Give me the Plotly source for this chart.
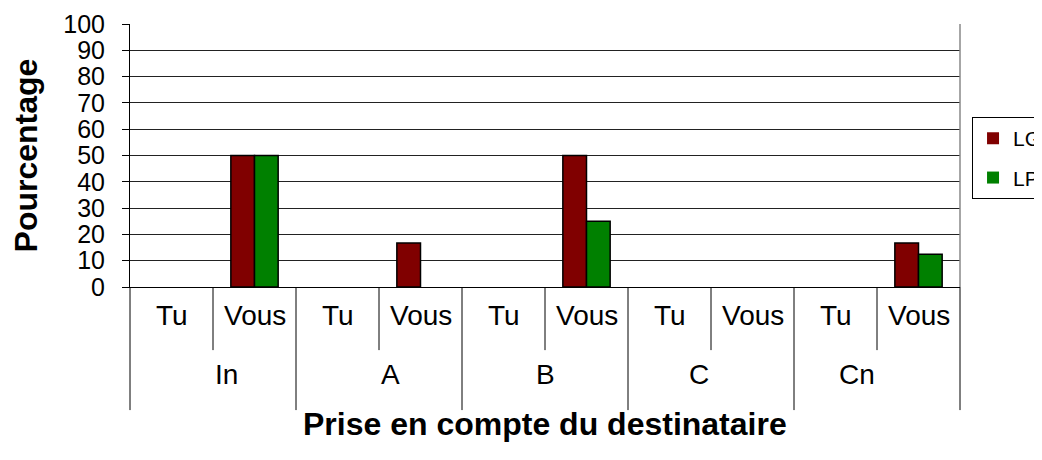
import plotly.graph_objects as go

# catégories (groupe, destinataire)
groupes = ["In", "A", "B", "C", "Cn"]
sous_cat = ["Tu", "Vous"]
cles = [g + "|" + s for g in groupes for s in sous_cat]

# pourcentages
lg = [0, 50, 0, 16.7, 0, 50, 0, 0, 0, 16.7]
lp = [0, 50, 0, 0, 0, 25, 0, 0, 0, 12.5]

police = "Arial, Liberation Sans, sans-serif"
n = len(cles)


def contour(valeurs):
    # pas de contour pour les barres nulles
    return [1.5 if v else 0 for v in valeurs]


fig = go.Figure()
fig.add_trace(go.Bar(x=cles, y=lg, name="LG", legendgroup="lg",
                     marker=dict(color="#800000", line=dict(color="black", width=contour(lg)))))
fig.add_trace(go.Bar(x=cles, y=lp, name="LP", legendgroup="lp",
                     marker=dict(color="#008000", line=dict(color="black", width=contour(lp)))))

annotations = []
shapes = []
for cle in cles:
    annotations.append(dict(x=cle, xref="x", y=-0.175, yref="paper", text=cle.split("|")[1],
                            showarrow=False, font=dict(size=28, color="black", family=police)))
for j, g in enumerate(groupes):
    annotations.append(dict(x=(2 * j + 1) / n, xref="paper", y=-0.40, yref="paper", text=g,
                            showarrow=False, font=dict(size=28, color="black", family=police)))
annotations.append(dict(x=0.5, xref="paper", y=-0.597, yref="paper", text="<b>Prise en compte du destinataire</b>",
                        showarrow=False, font=dict(size=32, color="black", family=police)))

# séparateurs sous l'axe
for k in range(n + 1):
    bas = -0.468 if k % 2 == 0 else -0.24
    shapes.append(dict(type="line", xref="paper", yref="paper", x0=k / n, x1=k / n, y0=0, y1=bas,
                       line=dict(color="black", width=1)))
shapes.append(dict(type="line", xref="paper", yref="paper", x0=1, x1=1, y0=0, y1=1,
                   line=dict(color="#888", width=1.5)))

fig.update_layout(
    width=1034, height=444,
    margin=dict(l=122, r=82, t=16, b=165, autoexpand=False),
    plot_bgcolor="white", paper_bgcolor="white",
    font=dict(family=police, color="black"),
    bargap=0.43, bargroupgap=0,
    barmode="group",
    legend=dict(x=1.0145, y=0.646, xanchor="left", yanchor="top", bordercolor="black", borderwidth=1,
                font=dict(size=21), tracegroupgap=9),
    annotations=annotations, shapes=shapes,
    xaxis=dict(type="category", range=[-0.5, n - 0.5], showticklabels=False, showgrid=False,
               showline=True, linecolor="black", linewidth=1, zeroline=False),
    yaxis=dict(range=[0, 100], dtick=10, showgrid=True, gridcolor="#222", gridwidth=1,
               showline=True, linecolor="black", linewidth=1, ticks="outside", ticklen=7,
               tickcolor="black", tickfont=dict(size=25), ticklabelstandoff=12,
               title=dict(text="<b>Pourcentage</b>", font=dict(size=32), standoff=28), zeroline=False),
)

fig.write_html("out.html")
